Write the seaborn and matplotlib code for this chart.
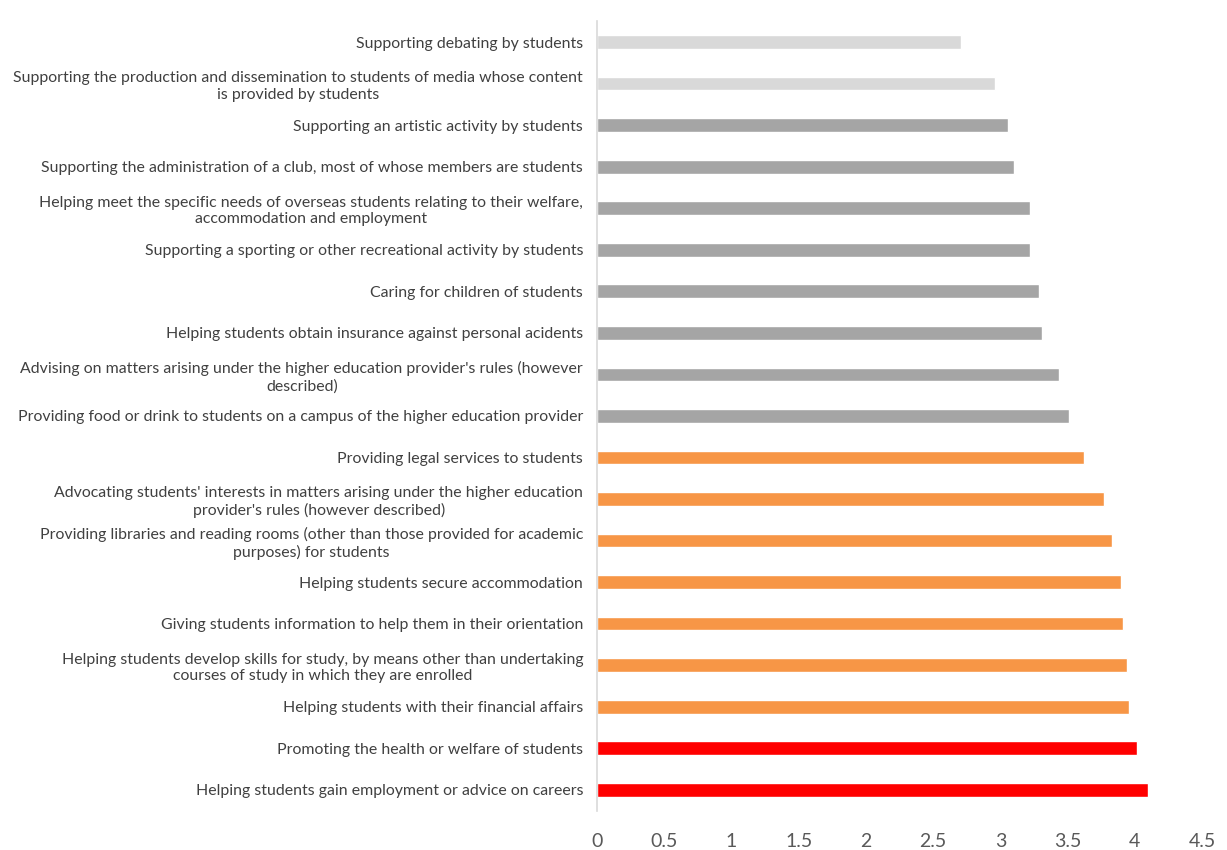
import numpy as np
import pandas as pd
import matplotlib
matplotlib.use("Agg")
import matplotlib.pyplot as plt
import seaborn as sns

# 数据（从上到下）
services = [
    "Supporting debating by students",
    "Supporting the production and dissemination to students of media whose content\nis provided by students",
    "Supporting an artistic activity by students",
    "Supporting the administration of a club, most of whose members are students",
    "Helping meet the specific needs of overseas students relating to their welfare,\naccommodation and employment",
    "Supporting a sporting or other recreational activity by students",
    "Caring for children of students",
    "Helping students obtain insurance against personal acidents",
    "Advising on matters arising under the higher education provider's rules (however\ndescribed)",
    "Providing food or drink to students on a campus of the higher education provider",
    "Providing legal services to students",
    "Advocating students' interests in matters arising under the higher education\nprovider's rules (however described)",
    "Providing libraries and reading rooms (other than those provided for academic\npurposes) for students",
    "Helping students secure accommodation",
    "Giving students information to help them in their orientation",
    "Helping students develop skills for study, by means other than undertaking\ncourses of study in which they are enrolled",
    "Helping students with their financial affairs",
    "Promoting the health or welfare of students",
    "Helping students gain employment or advice on careers",
]
scores = [2.71, 2.96, 3.06, 3.10, 3.22, 3.22, 3.29, 3.31, 3.44, 3.51,
          3.62, 3.77, 3.83, 3.90, 3.91, 3.94, 3.96, 4.02, 4.10]
groups = ["low"] * 2 + ["mid"] * 8 + ["high"] * 7 + ["top"] * 2

group_colors = {"low": "#D9D9D9", "mid": "#A5A5A5", "high": "#F79646", "top": "#FF0000"}

df = pd.DataFrame({"service": services, "score": scores, "group": groups})

sns.set_theme(style="white")
plt.rcParams['font.family'] = ['Lato', 'DejaVu Sans']

fig = plt.figure(figsize=(12.27, 8.5), dpi=100)
ax = fig.add_axes([0.4866, 0.0464, 0.4930, 0.9286])

sns.barplot(data=df, x="score", y="service", hue="group", palette=group_colors,
            dodge=False, width=0.33, legend=False, ax=ax, saturation=1)

ax.set_xlim(0, 4.5)
ax.set_ylim(18.5, -0.5)
ax.set_xticks(np.arange(0, 4.51, 0.5))
ax.set_xticklabels(["0", "0.5", "1", "1.5", "2", "2.5", "3", "3.5", "4", "4.5"])
ax.set_xlabel("")
ax.set_ylabel("")

for s in ["top", "right", "bottom"]:
    ax.spines[s].set_visible(False)
ax.spines["left"].set_color("#D9D9D9")
ax.spines["left"].set_linewidth(1.2)

ax.tick_params(axis="x", length=0, pad=16, labelsize=14, labelcolor="#595959")
ax.tick_params(axis="y", length=0, pad=10, labelsize=11.4, labelcolor="#404040")
for lbl in ax.get_yticklabels():
    lbl.set_multialignment("center")
    lbl.set_linespacing(1.25)

fig.savefig("out.png", dpi=100)
